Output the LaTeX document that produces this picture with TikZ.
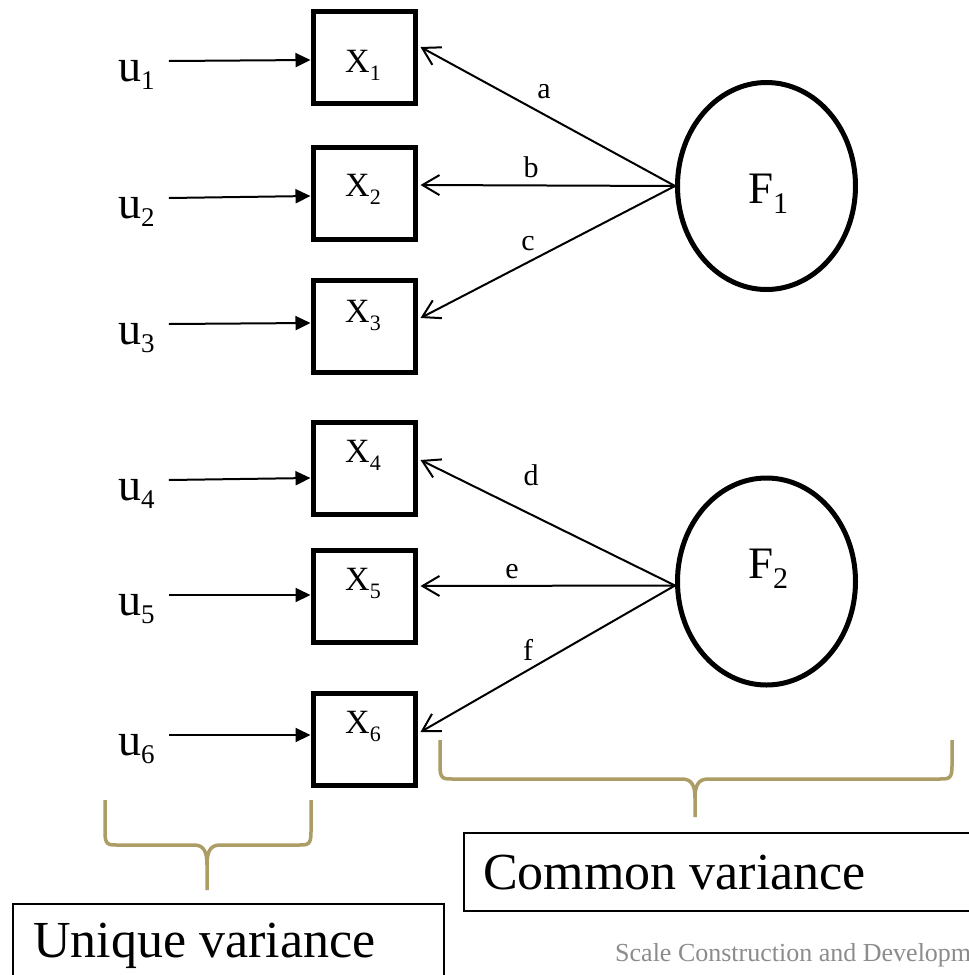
\documentclass[tikz,border=0pt]{standalone}
\usepackage{fontspec}
\setmainfont{Liberation Serif}
\usetikzlibrary{arrows.meta,shapes.geometric,calc}
\definecolor{bracegold}{RGB}{172,156,101}
\definecolor{footgray}{RGB}{140,140,140}
% lowered subscript: text, shift, size
\newcommand\subtxt[3]{\raisebox{#2}{\fontsize{#3}{#3}\selectfont #1}}
\newcommand\Xvar[1]{{\fontsize{34}{34}\selectfont X}\subtxt{#1}{-8pt}{22}}
\newcommand\Uvar[1]{{\fontsize{46}{46}\selectfont u}\subtxt{#1}{-8pt}{27}}
\newcommand\Fvar[1]{{\fontsize{45}{45}\selectfont F}\subtxt{#1}{-10pt}{30}}

\begin{document}
\begin{tikzpicture}[x=1pt,y=-1pt,
  obs/.style={draw, line width=5pt, minimum width=102pt, minimum height=92pt, inner sep=0pt},
  fac/.style={draw, ellipse, line width=5pt, minimum width=178pt, minimum height=207pt, inner sep=0pt},
  uarr/.style={line width=2pt, -{Triangle[length=15pt,width=14pt]}},
  load/.style={line width=2pt, -{Straight Barb[length=17pt,width=20pt]}},
  txt/.style={inner sep=0pt, anchor=base west},
  coef/.style={inner sep=0pt, anchor=base, font=\fontsize{30}{30}\selectfont},
  brace/.style={draw=bracegold, line width=3.5pt},
  caption/.style={inner sep=0pt, anchor=base west, font=\fontsize{52}{52}\selectfont}
]
\useasboundingbox (0,0) rectangle (969,975);
\clip (0,0) rectangle (969,975);
\fill[white] (0,0) rectangle (969,975);

% observed variables
\node[obs] (X1) at (364,57) {};
\node[obs] (X2) at (364,193.5) {};
\node[obs] (X3) at (364,326) {};
\node[obs] (X4) at (364,468) {};
\node[obs] (X5) at (364,596) {};
\node[obs] (X6) at (364,739) {};
\node[txt] (lx1) at (345,72) {\Xvar{1}};
\node[txt] (lx2) at (345,196) {\Xvar{2}};
\node[txt] (lx3) at (345,322) {\Xvar{3}};
\node[txt] (lx4) at (345,462) {\Xvar{4}};
\node[txt] (lx5) at (345,590) {\Xvar{5}};
\node[txt] (lx6) at (345,733) {\Xvar{6}};

% factors
\node[fac] (F1) at (766.5,186) {};
\node[fac] (F2) at (766.5,581.5) {};
\node[txt] (lf1) at (748,203) {\Fvar{1}};
\node[txt] (lf2) at (748,578) {\Fvar{2}};

% unique terms
\node[txt] (u1) at (118,81) {\Uvar{1}};
\node[txt] (u2) at (118,218) {\Uvar{2}};
\node[txt] (u3) at (118,344) {\Uvar{3}};
\node[txt] (u4) at (118,500) {\Uvar{4}};
\node[txt] (u5) at (118,615) {\Uvar{5}};
\node[txt] (u6) at (118,755) {\Uvar{6}};

\draw[uarr] ($(u1.base east)+(14,-20)$) -- ($(X1.west)+(0,3)$);
\draw[uarr] ($(u2.base east)+(14,-20)$) -- ($(X2.west)+(0,2.5)$);
\draw[uarr] ($(u3.base east)+(14,-20)$) -- ($(X3.west)+(0,-3)$);
\draw[uarr] ($(u4.base east)+(14,-20)$) -- ($(X4.west)+(0,10)$);
\draw[uarr] ($(u5.base east)+(14,-20)$) -- ($(X5.west)+(0,-1)$);
\draw[uarr] ($(u6.base east)+(14,-20)$) -- ($(X6.west)+(0,-4)$);

% loadings
\draw[load] (F1.west) -- ($(X1.east)+(3,-10)$);
\draw[load] (F1.west) -- ($(X2.east)+(3,-8.5)$);
\draw[load] (F1.west) -- ($(X3.east)+(3,-8)$);
\draw[load] ($(F2.west)+(0,4)$) -- ($(X4.east)+(3,-8)$);
\draw[load] ($(F2.west)+(0,4)$) -- ($(X5.east)+(3,-10)$);
\draw[load] ($(F2.west)+(0,4)$) -- ($(X6.east)+(3,-7)$);
\node[coef] (ca) at (544,98) {a};
\node[coef] (cb) at (531,177) {b};
\node[coef] (cc) at (528,250) {c};
\node[coef] (cd) at (531,485) {d};
\node[coef] (ce) at (512,578) {e};
\node[coef] (cf) at (528,660) {f};

% braces
\draw[brace] (105,800) -- (105,832) .. controls (105,845) and (108,845) .. (118,845)
  -- (194,845) .. controls (204,845) and (207,852) .. (207,865) -- (207,890);
\draw[brace] (311,800) -- (311,832) .. controls (311,845) and (308,845) .. (298,845)
  -- (220,845) .. controls (210,845) and (207,852) .. (207,865);
\draw[brace] (440,740) -- (440,766) .. controls (440,779) and (443,779) .. (453,779)
  -- (682,779) .. controls (692,779) and (695,786) .. (695,798) -- (695,817);
\draw[brace] (952,740) -- (952,766) .. controls (952,779) and (949,779) .. (939,779)
  -- (708,779) .. controls (698,779) and (695,786) .. (695,798);

% captions
\node[draw, line width=1.5pt, anchor=north west, minimum width=560pt, minimum height=78pt, inner sep=0pt] (cbox) at (463,832) {};
\node[caption] (common) at (483,889) {Common variance};
\node[draw, line width=1.5pt, anchor=north west, minimum width=431pt, minimum height=100pt, inner sep=0pt] (ubox) at (12,903) {};
\node[caption] (unique) at (33,957) {Unique variance};

% footer
\node[txt, text=footgray, font=\fontsize{26}{26}\selectfont] (foot) at (615,961) {Scale Construction and Developm};
\end{tikzpicture}
\end{document}
